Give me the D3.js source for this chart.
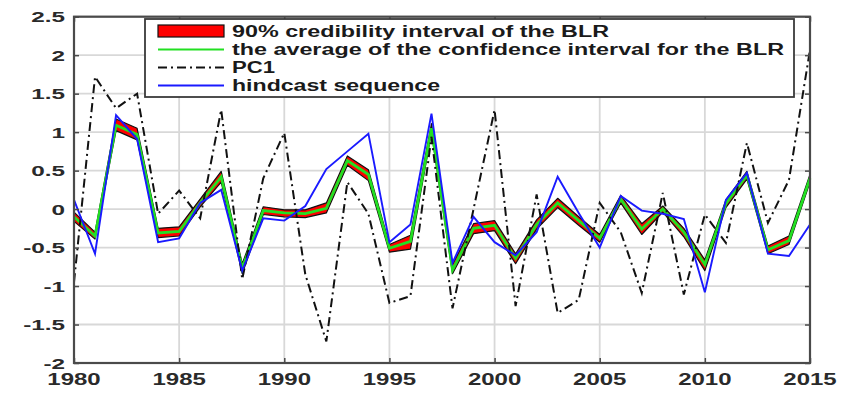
<!DOCTYPE html>
<html><head><meta charset="utf-8">
<script src="https://cdn.jsdelivr.net/npm/d3@7"></script>
<style>
html,body{margin:0;padding:0;background:#fff;}
svg{display:block;font-family:"Liberation Sans",Arial,sans-serif;}
</style></head>
<body>
<svg id="c" width="847" height="406"></svg>
<script>
const years = d3.range(1980, 2016);
const blrMean = [-0.10,-0.35,1.09,0.97,-0.31,-0.29,0.08,0.42,-0.77,-0.02,-0.05,-0.06,0.01,0.63,0.45,-0.51,-0.42,1.05,-0.79,-0.25,-0.21,-0.64,-0.20,0.08,-0.15,-0.38,0.13,-0.26,0.00,-0.30,-0.72,0.07,0.44,-0.53,-0.41,0.40];
const blrUpper = [-0.04,-0.30,1.17,1.05,-0.25,-0.23,0.13,0.49,-0.71,0.03,-0.01,-0.01,0.08,0.69,0.51,-0.46,-0.34,1.11,-0.72,-0.19,-0.15,-0.58,-0.14,0.14,-0.10,-0.33,0.18,-0.19,0.04,-0.25,-0.66,0.12,0.49,-0.48,-0.35,0.45];
const blrLower = [-0.16,-0.39,1.02,0.90,-0.37,-0.35,0.03,0.35,-0.84,-0.07,-0.10,-0.11,-0.05,0.57,0.37,-0.56,-0.52,0.99,-0.84,-0.32,-0.28,-0.71,-0.26,0.02,-0.21,-0.43,0.08,-0.33,-0.04,-0.36,-0.80,0.02,0.39,-0.58,-0.46,0.35];
const hindcast = [0.12,-0.58,1.22,0.91,-0.43,-0.38,0.08,0.25,-0.80,-0.12,-0.15,0.04,0.52,0.75,0.98,-0.43,-0.20,1.24,-0.70,-0.10,-0.43,-0.60,-0.30,0.42,-0.05,-0.50,0.17,-0.02,-0.06,-0.13,-1.08,0.12,0.47,-0.58,-0.61,-0.20];
const pc1 = [-0.95,1.72,1.31,1.50,-0.06,0.24,-0.12,1.29,-0.91,0.40,0.99,-0.85,-1.72,0.35,-0.06,-1.22,-1.13,0.94,-1.29,0.00,1.29,-1.26,0.19,-1.35,-1.18,0.08,-0.30,-1.09,0.21,-1.11,-0.07,-0.44,0.86,-0.18,0.38,2.07];
const xTicks = [1980,1985,1990,1995,2000,2005,2010,2015];
const yTicks = [-2,-1.5,-1,-0.5,0,0.5,1,1.5,2,2.5];
const legendLabels = ["90% credibility interval of the BLR","the average of the confidence interval for the BLR","PC1","hindcast sequence"];

const svg = d3.select("#c");
const L=74, R=810, T=16.7, B=363;
const x = d3.scaleLinear().domain([1980,2015]).range([L,R]);
const y = d3.scaleLinear().domain([-2,2.5]).range([B,T]);

// grid
const g = svg.append("g");
g.selectAll(".vg").data(xTicks).enter().append("line")
  .attr("x1",d=>x(d)).attr("x2",d=>x(d)).attr("y1",T).attr("y2",B)
  .attr("stroke","#d8d8d8").attr("stroke-width",1.8);
g.selectAll(".hg").data(yTicks).enter().append("line")
  .attr("x1",L).attr("x2",R).attr("y1",d=>y(d)).attr("y2",d=>y(d))
  .attr("stroke","#d8d8d8").attr("stroke-width",1.8);

const idx = d3.range(years.length);
// band
const area = d3.area().x(i=>x(years[i])).y0(i=>y(blrLower[i])).y1(i=>y(blrUpper[i]));
svg.append("path").attr("d",area(idx)).attr("fill","#ff0000").attr("stroke","#111").attr("stroke-width",1.2).attr("stroke-linejoin","round");
const line = arr => d3.line().x(i=>x(years[i])).y(i=>y(arr[i]))(idx);
svg.append("path").attr("d",line(blrMean)).attr("fill","none").attr("stroke","#22e022").attr("stroke-width",2.8);
svg.append("path").attr("d",line(pc1)).attr("fill","none").attr("stroke","#111").attr("stroke-width",2).attr("stroke-dasharray","9,4,2,4");
svg.append("path").attr("d",line(hindcast)).attr("fill","none").attr("stroke","#1a1aff").attr("stroke-width",1.9);

// axes box with inward ticks
const axCol = "#4a4a4a";
const xb = d3.axisBottom(x).tickValues(xTicks).tickSize(-5).tickFormat("");
const xt = d3.axisTop(x).tickValues(xTicks).tickSize(-5).tickFormat("");
const yl = d3.axisLeft(y).tickValues(yTicks).tickSize(-5).tickFormat("");
const yr = d3.axisRight(y).tickValues(yTicks).tickSize(-5).tickFormat("");
[[xb,`translate(0,${B})`],[xt,`translate(0,${T})`],[yl,`translate(${L},0)`],[yr,`translate(${R},0)`]].forEach(([a,t])=>{
  const ag = svg.append("g").attr("transform",t).call(a);
  ag.selectAll("line").attr("stroke",axCol).attr("stroke-width",1.5);
  ag.select(".domain").remove();
});
svg.append("rect").attr("x",L).attr("y",T).attr("width",R-L).attr("height",B-T)
  .attr("fill","none").attr("stroke",axCol).attr("stroke-width",2.2);

// tick labels
svg.selectAll(".xl").data(xTicks).enter().append("text")
  .attr("transform",d=>`translate(${x(d)},385) scale(1.5,1)`)
  .attr("text-anchor","middle").attr("font-size",16).attr("font-weight","bold").attr("fill","#2a2a2a")
  .text(d=>d);
svg.selectAll(".yl").data(yTicks).enter().append("text")
  .attr("transform",d=>`translate(65,${y(d)+5.5}) scale(1.62,1)`)
  .attr("text-anchor","end").attr("font-size",15).attr("font-weight","bold").attr("fill","#2a2a2a")
  .text(d=>String(d));

// legend
const lg = svg.append("g");
lg.append("rect").attr("x",145).attr("y",19).attr("width",649).attr("height",78)
  .attr("fill","#fff").attr("stroke","#3a3a3a").attr("stroke-width",1.8);
const rows = [31.5,49.5,67.5,85.5];
const lens = [377,552,43,208];
lg.append("rect").attr("x",158).attr("y",25).attr("width",66).attr("height",12)
  .attr("fill","#ff0000").attr("stroke","#111").attr("stroke-width",1.2);
lg.append("line").attr("x1",158).attr("x2",224).attr("y1",rows[1]).attr("y2",rows[1]).attr("stroke","#22e022").attr("stroke-width",2);
lg.append("line").attr("x1",158).attr("x2",224).attr("y1",rows[2]).attr("y2",rows[2]).attr("stroke","#111").attr("stroke-width",1.8).attr("stroke-dasharray","9,4,2,4");
lg.append("line").attr("x1",158).attr("x2",224).attr("y1",rows[3]).attr("y2",rows[3]).attr("stroke","#1a1aff").attr("stroke-width",1.8);
legendLabels.forEach((t,i)=>{
  lg.append("text").attr("x",232).attr("y",rows[i]+5.7)
    .attr("font-size",16).attr("font-weight","bold").attr("fill","#1a1a1a")
    .attr("textLength",lens[i]).attr("lengthAdjust","spacingAndGlyphs")
    .text(t);
});
</script>
</body></html>
